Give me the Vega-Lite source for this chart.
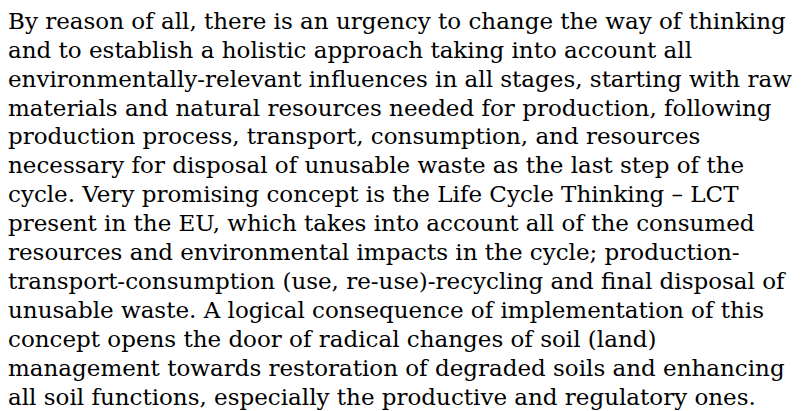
{
  "$schema": "https://vega.github.io/schema/vega-lite/v6.json",
  "width": 798,
  "height": 411,
  "padding": {"left": 8, "top": 0, "right": 0, "bottom": 0},
  "background": "white",
  "config": {"view": {"stroke": null}},
  "data": {"values": [
    {"line": 1, "text": "By reason of all, there is an urgency to change the way of thinking"},
    {"line": 2, "text": "and to establish a holistic approach taking into account all"},
    {"line": 3, "text": "environmentally-relevant influences in all stages, starting with raw"},
    {"line": 4, "text": "materials and natural resources needed for production, following"},
    {"line": 5, "text": "production process, transport, consumption, and resources"},
    {"line": 6, "text": "necessary for disposal of unusable waste as the last step of the"},
    {"line": 7, "text": "cycle. Very promising concept is the Life Cycle Thinking – LCT"},
    {"line": 8, "text": "present in the EU, which takes into account all of the consumed"},
    {"line": 9, "text": "resources and environmental impacts in the cycle; production-"},
    {"line": 10, "text": "transport-consumption (use, re-use)-recycling and final disposal of"},
    {"line": 11, "text": "unusable waste. A logical consequence of implementation of this"},
    {"line": 12, "text": "concept opens the door of radical changes of soil (land)"},
    {"line": 13, "text": "management towards restoration of degraded soils and enhancing"},
    {"line": 14, "text": "all soil functions, especially the productive and regulatory ones."}
  ]},
  "mark": {"type": "text", "align": "left", "baseline": "alphabetic", "font": "DejaVu Serif", "fontSize": 23, "color": "#000000"},
  "encoding": {
    "y": {"field": "line", "type": "quantitative", "scale": {"domain": [0.009, 14.206], "range": [0, 411], "nice": false, "zero": false}, "axis": null},
    "x": {"datum": 0, "type": "quantitative", "scale": {"domain": [0, 1]}, "axis": null},
    "text": {"field": "text"}
  }
}
